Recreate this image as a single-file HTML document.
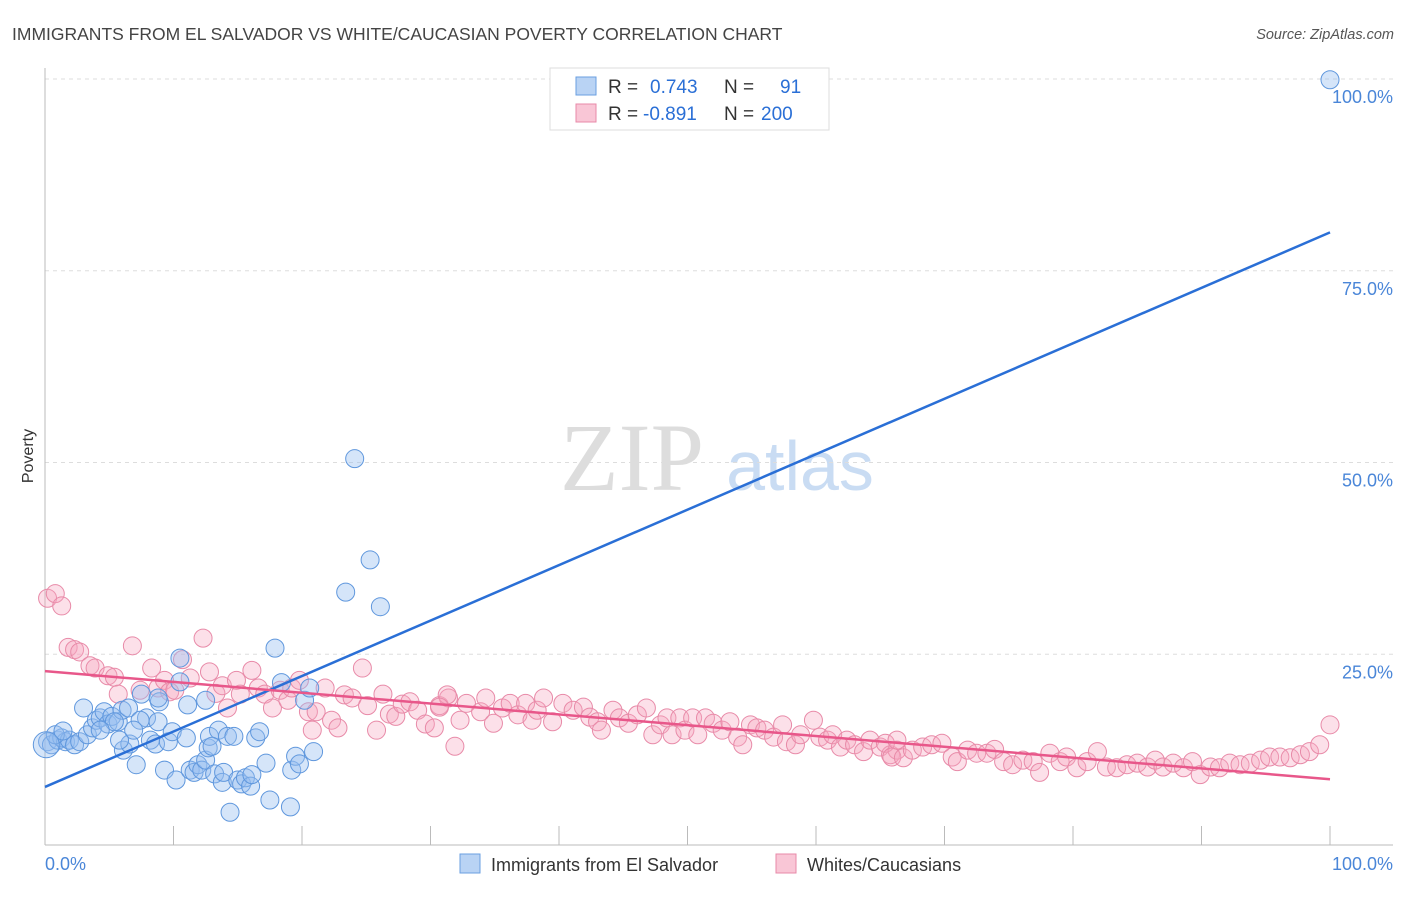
<!DOCTYPE html>
<html><head><meta charset="utf-8"><style>
body{margin:0;background:#fff;font-family:"Liberation Sans",sans-serif}
svg text{font-family:"Liberation Sans",sans-serif}
</style></head><body>
<svg id="c" width="1406" height="892" viewBox="0 0 1406 892">
<text x="12" y="40" font-size="17.5" fill="#444">IMMIGRANTS FROM EL SALVADOR VS WHITE/CAUCASIAN POVERTY CORRELATION CHART</text>
<text x="1394" y="39" font-size="14.5" fill="#555" font-style="italic" text-anchor="end">Source: ZipAtlas.com</text>
<text x="33" y="456" font-size="16" fill="#333" transform="rotate(-90 33 456)" text-anchor="middle">Poverty</text>
<g>
<text x="632" y="490" font-size="96" fill="#ddd" font-family="Liberation Serif" text-anchor="middle" style="font-family:'Liberation Serif',serif">ZIP</text>
<text x="800" y="490" font-size="70" fill="#c9dcf3" text-anchor="middle">atlas</text>
</g>
<g id="grid"></g><g id="pts"></g><g id="lines"></g>
<g>
<rect x="550" y="68" width="279" height="62" fill="#fff" stroke="#ddd"/>
<rect x="576" y="77" width="20" height="18" fill="#b9d3f4" stroke="#6a9fe0"/>
<rect x="576" y="104" width="20" height="18" fill="#f9c6d6" stroke="#e88aa8"/>
<text x="608" y="93" font-size="19" fill="#333">R = <tspan fill="#2a6fd6" x="650">0.743</tspan><tspan x="724" fill="#333">N =</tspan><tspan x="780" fill="#2a6fd6">91</tspan></text>
<text x="608" y="120" font-size="19" fill="#333">R = <tspan fill="#2a6fd6" x="643">-0.891</tspan><tspan x="724" fill="#333">N =</tspan><tspan x="761" fill="#2a6fd6">200</tspan></text>
</g>
<g>
<rect x="460" y="854" width="20" height="19" fill="#b9d3f4" stroke="#6a9fe0"/>
<text x="491" y="871" font-size="18" fill="#333">Immigrants from El Salvador</text>
<rect x="776" y="854" width="20" height="19" fill="#f9c6d6" stroke="#e88aa8"/>
<text x="807" y="871" font-size="18" fill="#333">Whites/Caucasians</text>
</g>
</svg>
<script>
const yTicks=[25,50,75,100];
const yTickLabels=["25.0%","50.0%","75.0%","100.0%"];
const xTicks=[0,10,20,30,40,50,60,70,80,90,100];
const blueX=[0.2,0.5,1.0,1.3,1.6,1.9,2.3,2.7,0.8,1.4,3.0,3.3,3.7,4.0,4.3,4.6,4.9,5.2,5.7,6.0,6.5,6.1,6.6,7.1,7.5,7.9,8.2,8.6,8.8,8.9,9.3,9.6,9.9,10.2,10.5,10.5,11.0,11.1,11.3,11.6,11.9,12.2,12.5,12.7,12.8,13.2,13.5,13.8,13.9,14.2,14.7,15.0,15.3,15.6,16.0,16.1,16.4,16.7,17.2,17.5,17.9,18.4,19.2,19.5,19.8,20.2,20.6,20.9,19.1,14.4,23.4,24.1,25.3,26.1,100,8.8,7.4,5.4,4.3,5.8,6.9,13.0,12.5,0.1];
const blueY=[13.6,13.2,13.8,14.1,13.6,13.8,13.2,13.6,14.5,15.0,18.0,14.5,15.4,16.4,16.7,17.5,15.9,16.9,16.2,17.7,18.0,12.5,13.3,10.6,19.8,16.7,13.8,13.3,16.2,18.8,9.9,13.6,14.9,8.6,24.5,21.4,14.1,18.4,9.9,9.6,10.6,9.9,11.2,12.8,14.3,9.4,15.1,8.3,9.6,14.3,14.3,8.6,8.1,8.9,7.8,9.3,14.1,14.9,10.8,6.0,25.8,21.3,9.9,11.7,10.7,19.0,20.6,12.3,5.1,4.4,33.1,50.5,37.3,31.2,99.9,19.3,16.4,16.2,15.1,13.8,15.1,13.0,19.0,13.2];
const pinkX=[0.2,0.8,1.3,1.8,2.3,2.7,3.5,3.9,4.9,5.4,5.7,6.8,7.4,8.3,8.8,9.3,9.7,10.1,10.7,11.3,12.3,12.8,13.3,13.8,14.2,14.9,15.2,16.1,16.6,17.1,17.7,18.3,18.9,19.2,19.8,20.5,20.8,21.1,21.8,22.3,22.8,23.3,23.9,24.7,25.1,25.8,26.3,26.8,27.3,27.8,28.4,29.0,29.6,30.3,30.7,31.4,31.9,
31.3,30.7,32.3,32.8,33.9,34.3,34.9,35.6,36.2,36.8,37.4,37.9,38.3,38.8,39.5,40.3,41.1,41.9,42.4,43.0,43.3,44.2,44.7,45.4,46.1,46.8,47.3,47.9,48.4,48.8,49.4,49.8,50.4,50.8,51.4,52.0,52.7,53.3,53.9,54.3,54.9,55.4,56.0,56.7,57.4,57.7,58.4,58.8,59.8,60.3,60.9,61.3,61.9,62.4,63.0,63.7,64.2,65.0,65.8,66.3,
65.4,66.3,65.9,66.8,67.5,68.3,69.0,69.8,70.6,71.0,71.8,72.5,73.3,73.9,74.6,75.3,76.1,76.9,77.4,78.2,79.0,79.5,80.3,81.1,81.9,82.6,83.4,84.2,85.0,85.8,86.4,87.0,87.8,88.6,89.3,89.9,90.7,91.4,92.2,93.0,93.8,94.6,95.3,96.1,96.9,97.7,98.4,99.2,100];
const pinkY=[32.3,32.9,31.3,25.9,25.6,25.3,23.5,23.2,22.2,22.0,19.8,26.1,20.3,23.2,20.6,21.6,20.1,20.3,24.3,21.9,27.1,22.7,19.9,20.9,18.0,21.6,19.8,22.9,20.6,19.8,18.0,20.3,19.0,20.6,21.6,17.5,15.1,17.5,20.6,16.4,15.4,19.7,19.3,23.2,18.3,15.1,19.8,17.2,16.9,18.5,18.8,17.7,15.9,15.4,18.3,19.3,13.0,
19.7,18.1,16.4,18.6,17.5,19.3,16.0,18.0,18.6,17.1,18.6,16.4,17.7,19.3,16.2,18.6,17.7,18.1,16.8,16.2,15.1,17.7,16.7,16.0,17.1,18.0,14.5,15.8,16.7,14.5,16.7,15.1,16.7,14.5,16.7,16.0,15.1,16.2,14.2,13.2,15.8,15.4,15.1,14.2,15.8,13.6,13.2,14.5,16.4,14.2,13.8,14.5,12.9,13.8,13.2,12.3,13.8,12.9,11.9,12.5,
13.4,13.8,11.6,11.5,12.5,12.9,13.2,13.4,11.6,11.0,12.5,12.1,12.1,12.6,11.0,10.6,11.2,11.0,9.6,12.1,11.0,11.6,10.2,11.0,12.3,10.3,10.2,10.6,10.8,10.3,11.2,10.3,10.8,10.2,11.0,9.3,10.3,10.2,10.8,10.6,10.8,11.2,11.6,11.6,11.5,11.9,12.3,13.2,15.8];
const blueFit=[7.7,80.0];
const pinkFit=[22.8,8.7];
const NS='http://www.w3.org/2000/svg';
const X0=45,X1=1330,Y0=846,Y100=79;
const sx=v=>X0+(X1-X0)*v/100;
const sy=v=>Y0-(Y0-Y100)*v/100;
function mk(t,a,p){const e=document.createElementNS(NS,t);for(const k in a)e.setAttribute(k,a[k]);p.appendChild(e);return e;}
const grid=document.getElementById('grid');
yTicks.forEach((t,i)=>{
 const l=mk('line',{x1:X0,x2:1393,y1:sy(t),y2:sy(t),stroke:'#ddd','stroke-dasharray':'4,4'},grid);
 
 
 const tx=mk('text',{x:1393,y:sy(t)+24,'font-size':18,fill:'#4a86d8','text-anchor':'end'},grid);
 tx.textContent=yTickLabels[i];
 
 
});
const ax=mk('line',{x1:X0,x2:X0,y1:68,y2:845,stroke:'#bbb'},grid);


const bx=mk('line',{x1:X0,x2:1393,y1:845,y2:845,stroke:'#bbb'},grid);


xTicks.forEach(t=>{
 const l=mk('line',{x1:sx(t),x2:sx(t),y1:826,y2:845,stroke:'#bbb'},grid);
 
 
});
const t0=mk('text',{x:45,y:870,'font-size':18,fill:'#4a86d8'},grid);t0.textContent='0.0%';


const t1=mk('text',{x:1393,y:870,'font-size':18,fill:'#4a86d8','text-anchor':'end'},grid);t1.textContent='100.0%';


const pts=document.getElementById('pts');
pinkX.forEach((x,i)=>{
 const c=mk('circle',{cx:sx(x),cy:sy(pinkY[i]),r:9,fill:'rgba(245,165,192,0.35)',stroke:'#e88aa8','stroke-width':1},pts);
 
 
});
blueX.forEach((x,i)=>{
 const c=mk('circle',{cx:sx(x),cy:sy(blueY[i]),r:i==blueX.length-1?13:9,fill:'rgba(150,190,240,0.4)',stroke:'#5f97dd','stroke-width':1},pts);
 
 
});
const lines=document.getElementById('lines');
const bl=mk('line',{x1:sx(0),y1:sy(blueFit[0]),x2:sx(100),y2:sy(blueFit[1]),stroke:'#2a6fd6','stroke-width':2.5},lines);


const pl=mk('line',{x1:sx(0),y1:sy(pinkFit[0]),x2:sx(100),y2:sy(pinkFit[1]),stroke:'#e8578a','stroke-width':2.5},lines);


</script>
</body></html>
